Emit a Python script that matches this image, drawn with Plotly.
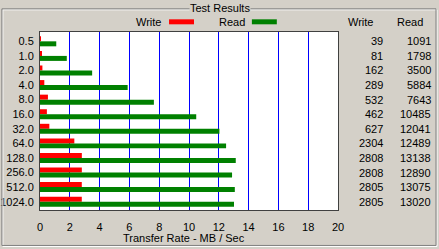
import plotly.graph_objects as go

# ---- data ----
block_sizes = ["0.5", "1.0", "2.0", "4.0", "8.0", "16.0", "32.0", "64.0",
               "128.0", "256.0", "512.0", "1024.0"]
write_kb = [39, 81, 162, 289, 532, 462, 627, 2304, 2808, 2808, 2805, 2805]
read_kb = [1091, 1798, 3500, 5884, 7643, 10485, 12041, 12489, 13138, 12890, 13075, 13020]
series_names = ["Write", "Read"]
x_ticks = list(range(0, 21, 2))
title_text = "Test Results"
axis_title = "Transfer Rate - MB / Sec"

write_mb = [v / 1000 for v in write_kb]
read_mb = [v / 1000 for v in read_kb]

W, H = 439, 249
L, R, T, B = 39.7, 338.3, 31.7, 210.0
BG = "#D4D0C8"
FONT = "Liberation Sans"
FS = 11


def px(x):
    return (x - L) / (R - L)


def py(y):
    return (B - y) / (B - T)


fig = go.Figure()
fig.add_trace(go.Bar(y=block_sizes, x=write_mb, orientation="h", name=series_names[0],
                     marker=dict(color="#FF0000", line=dict(width=0))))
fig.add_trace(go.Bar(y=block_sizes, x=read_mb, orientation="h", name=series_names[1],
                     marker=dict(color="#008000", line=dict(width=0))))

shapes = []
# group box (etched)
shapes.append(dict(type="rect", xref="paper", yref="paper", x0=px(2.5), x1=px(437.5),
                   y0=py(9.5), y1=py(246.5), line=dict(color="#FFFFFF", width=1)))
shapes.append(dict(type="rect", xref="paper", yref="paper", x0=px(1.5), x1=px(436.5),
                   y0=py(8.5), y1=py(245.5), line=dict(color="#808080", width=1)))
# legend swatches
shapes.append(dict(type="rect", xref="paper", yref="paper", x0=px(169), x1=px(194),
                   y0=py(24), y1=py(19), fillcolor="#FF0000", line=dict(width=0)))
shapes.append(dict(type="rect", xref="paper", yref="paper", x0=px(252), x1=px(277),
                   y0=py(24), y1=py(19), fillcolor="#008000", line=dict(width=0)))


def txt(text, x, y, xanchor="center", yref="paper", bg=None):
    d = dict(text=text, xref="paper", yref=yref, x=x, y=y, xanchor=xanchor,
             yanchor="middle", showarrow=False, borderpad=0,
             font=dict(size=FS, color="black", family=FONT))
    if bg:
        d["bgcolor"] = bg
    return d


ann = []
ann.append(txt(title_text, px(220), py(7.5), bg=BG))
ann.append(txt(series_names[0], px(162), py(21.5), xanchor="right"))
ann.append(txt(series_names[1], px(246), py(21.5), xanchor="right"))
ann.append(txt(series_names[0], px(360.5), py(21.5)))
ann.append(txt(series_names[1], px(410), py(21.5)))
ann.append(txt(axis_title, px(184), py(238)))
for i, (w, r) in enumerate(zip(write_kb, read_kb)):
    ann.append(txt(str(w), px(384), i, xanchor="right", yref="y"))
    ann.append(txt(str(r), px(432), i, xanchor="right", yref="y"))

fig.update_layout(
    width=W, height=H,
    margin=dict(l=L, r=W - R, t=T, b=H - B, pad=0, autoexpand=False),
    paper_bgcolor=BG, plot_bgcolor="#FFFFFF",
    barmode="group", bargap=0.315, bargroupgap=0,
    showlegend=False,
    font=dict(family=FONT, size=FS, color="black"),
    shapes=shapes, annotations=ann,
    xaxis=dict(range=[0, 20], tickvals=x_ticks, ticktext=[str(t) for t in x_ticks],
               showgrid=True, gridcolor="#0000FF", gridwidth=1, zeroline=False,
               showline=True, linecolor="#404040", linewidth=1, mirror=True,
               ticks="outside", ticklen=7, tickcolor=BG, automargin=False,
               tickfont=dict(size=FS, family=FONT, color="black"), fixedrange=True),
    yaxis=dict(type="category", categoryorder="array", categoryarray=block_sizes,
               range=[11.57, -0.64], showgrid=False, zeroline=False,
               showline=True, linecolor="#404040", linewidth=1, mirror=True,
               ticks="outside", ticklen=3, tickcolor=BG, automargin=False,
               tickfont=dict(size=FS, family=FONT, color="black"), fixedrange=True),
)

fig.write_html("out.html", config={"displayModeBar": False})
